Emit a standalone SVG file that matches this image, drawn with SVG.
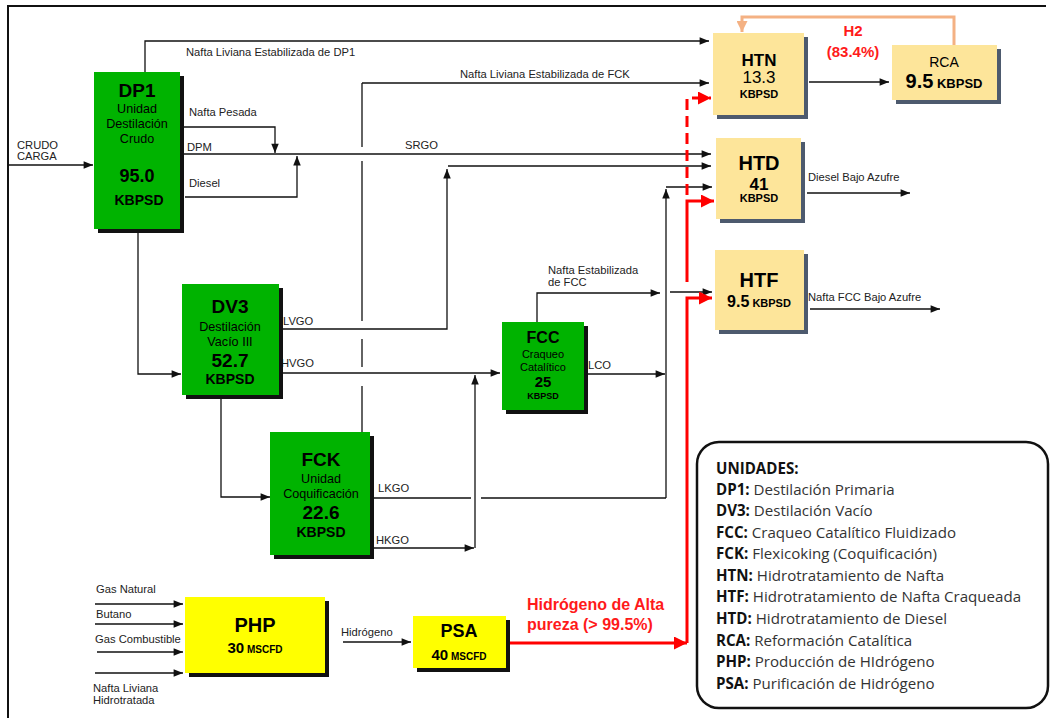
<svg xmlns="http://www.w3.org/2000/svg" width="1052" height="718" viewBox="0 0 1052 718">
<defs>
<style>
.ln{fill:none;stroke:#111;stroke-width:1.3}
.red{fill:none;stroke:#ff0000;stroke-width:3}
.dash{stroke-dasharray:11,6}
.org{fill:none;stroke:#f4b183;stroke-width:3}
.t{font-family:"Liberation Sans",Arial,sans-serif;fill:#000}
.lb{font-family:"Liberation Sans",Arial,sans-serif;font-size:11.2px;fill:#222}
.b{font-weight:bold}
.c{text-anchor:middle}
.green{fill:#00b300}
.tan{fill:#fde59a}
.yel{fill:#ffff00}
.shk{fill:#111}
.shb{fill:#4d5a6e}
.lg{font-family:"Open Sans","Liberation Sans",sans-serif;font-size:15.1px;fill:#333}
.lg tspan.k{font-weight:bold;fill:#111}
.rt{font-family:"Liberation Sans",Arial,sans-serif;font-weight:bold;fill:#ff1a1a}
</style>
<marker id="ah" viewBox="0 0 10 8" refX="10" refY="4" markerWidth="10" markerHeight="7.5" markerUnits="userSpaceOnUse" orient="auto"><path d="M0,0 L10,4 L0,8 z" fill="#111"/></marker>
<marker id="ahr" viewBox="0 0 10 10" refX="10" refY="5" markerWidth="14" markerHeight="13" markerUnits="userSpaceOnUse" orient="auto"><path d="M0,0 L10,5 L0,10 z" fill="#ff0000"/></marker>
<marker id="aho" viewBox="0 0 10 10" refX="10" refY="5" markerWidth="12" markerHeight="11" markerUnits="userSpaceOnUse" orient="auto"><path d="M0,0 L10,5 L0,10 z" fill="#f4b183"/></marker>
</defs>
<rect width="1052" height="718" fill="#fff"/>
<path d="M8,718 V6 H1046" fill="none" stroke="#111" stroke-width="2"/>

<g id="connectors">
<path class="ln" d="M8,165 H93" marker-end="url(#ah)"/>
<path class="ln" d="M145,72 V41 H709" marker-end="url(#ah)"/>
<path class="ln" d="M180,127 H275 V153" marker-end="url(#ah)"/>
<path class="ln" d="M180,154 H711" marker-end="url(#ah)"/>
<path class="ln" d="M185,197 H297 V156" marker-end="url(#ah)"/>
<path class="ln" d="M362,432 V386 M362,367 V339 M362,321 V161 M362,147 V83"/>
<path class="ln" d="M362,83 H709" marker-end="url(#ah)"/>
<path class="ln" d="M279,329 H447 V169" marker-end="url(#ah)"/>
<path class="ln" d="M448,166 H711" marker-end="url(#ah)"/>
<path class="ln" d="M279,373 H500" marker-end="url(#ah)"/>
<path class="ln" d="M138,229 V374 H181" marker-end="url(#ah)"/>
<path class="ln" d="M221,398 V497 H270" marker-end="url(#ah)"/>
<path class="ln" d="M372,498 H471 M481,498 H666"/>
<path class="ln" d="M666,498 V189" marker-end="url(#ah)"/>
<path class="ln" d="M666,187 H712" marker-end="url(#ah)"/>
<path class="ln" d="M372,548 H474" marker-end="url(#ah)"/>
<path class="ln" d="M475,548 V375" marker-end="url(#ah)"/>
<path class="ln" d="M585,374 H665" marker-end="url(#ah)"/>
<path class="ln" d="M537,322 V293 H660" marker-end="url(#ah)"/>
<path class="ln" d="M670,292 H712" marker-end="url(#ah)"/>
<path class="ln" d="M809,82 H889" marker-end="url(#ah)"/>
<path class="ln" d="M807,193 H910" marker-end="url(#ah)"/>
<path class="ln" d="M810,309 H940" marker-end="url(#ah)"/>
<path class="ln" d="M95,604 H183" marker-end="url(#ah)"/>
<path class="ln" d="M95,624 H183" marker-end="url(#ah)"/>
<path class="ln" d="M97,652 H183" marker-end="url(#ah)"/>
<path class="ln" d="M95,673 H183" marker-end="url(#ah)"/>
<path class="ln" d="M343,642 H411" marker-end="url(#ah)"/>
<path class="red" d="M508,643 H687" marker-end="url(#ahr)"/>
<path class="red" d="M687,643 V298 H712" marker-end="url(#ahr)"/>
<path class="red" d="M687,282 V201 H714" marker-end="url(#ahr)"/>
<path class="red dash" d="M687,195 V98 H711" marker-end="url(#ahr)"/>
<path class="org" d="M954,45 V17 H742 V32" marker-end="url(#aho)"/>
</g>

<g id="labels">
<text class="lb" x="17" y="149">CRUDO</text>
<text class="lb" x="17" y="160">CARGA</text>
<text class="lb" x="186" y="56">Nafta Liviana Estabilizada de DP1</text>
<text class="lb" x="189" y="116">Nafta Pesada</text>
<text class="lb" x="187" y="151">DPM</text>
<text class="lb" x="189" y="187">Diesel</text>
<text class="lb" x="405" y="149">SRGO</text>
<text class="lb" x="460" y="78">Nafta Liviana Estabilizada de FCK</text>
<text class="lb" x="283" y="325">LVGO</text>
<text class="lb" x="281" y="367">HVGO</text>
<text class="lb" x="378" y="492">LKGO</text>
<text class="lb" x="376" y="544">HKGO</text>
<text class="lb" x="588" y="369">LCO</text>
<text class="lb" x="548" y="274">Nafta Estabilizada</text>
<text class="lb" x="548" y="286">de FCC</text>
<text class="lb" x="808" y="181">Diesel Bajo Azufre</text>
<text class="lb" x="808" y="301">Nafta FCC Bajo Azufre</text>
<text class="lb" x="96" y="593">Gas Natural</text>
<text class="lb" x="96" y="618">Butano</text>
<text class="lb" x="95" y="643">Gas Combustible</text>
<text class="lb" x="93" y="692">Nafta Liviana</text>
<text class="lb" x="93" y="704">Hidrotratada</text>
<text class="lb" x="341" y="636">Hidrógeno</text>
<text class="rt" x="527" y="610" font-size="16">Hidrógeno de Alta</text>
<text class="rt" x="527" y="630" font-size="16">pureza (&gt; 99.5%)</text>
<text class="rt c" x="853" y="36" font-size="15">H2</text>
<text class="rt c" x="853" y="57" font-size="15">(83.4%)</text>
</g>

<g id="DP1">
<rect class="shk" x="98" y="76" width="86" height="157"/>
<rect class="green" x="94" y="72" width="86" height="157"/>
<text class="t b c" x="137" y="97" font-size="19">DP1</text>
<text class="t c" x="137" y="113" font-size="12.6">Unidad</text>
<text class="t c" x="137" y="128" font-size="12.6">Destilación</text>
<text class="t c" x="137" y="143" font-size="12.6">Crudo</text>
<text class="t b c" x="137" y="182" font-size="18">95.0</text>
<text class="t b c" x="139" y="205" font-size="14">KBPSD</text>
</g>

<g id="DV3">
<rect class="shk" x="186" y="288" width="97" height="111"/>
<rect class="green" x="182" y="284" width="97" height="111"/>
<text class="t b c" x="230" y="313" font-size="19">DV3</text>
<text class="t c" x="230" y="331" font-size="12.6">Destilación</text>
<text class="t c" x="230" y="346" font-size="12.6">Vacío III</text>
<text class="t b c" x="230" y="367" font-size="19">52.7</text>
<text class="t b c" x="230" y="384" font-size="14">KBPSD</text>
</g>

<g id="FCC">
<rect class="shk" x="506" y="326" width="82" height="88"/>
<rect class="green" x="502" y="322" width="82" height="88"/>
<text class="t b c" x="543" y="343" font-size="16">FCC</text>
<text class="t c" x="543" y="358" font-size="11">Craqueo</text>
<text class="t c" x="543" y="371" font-size="11">Catalítico</text>
<text class="t b c" x="543" y="387" font-size="15">25</text>
<text class="t b c" x="543" y="399" font-size="9">KBPSD</text>
</g>

<g id="FCK">
<rect class="shk" x="274" y="436" width="100" height="123"/>
<rect class="green" x="270" y="432" width="100" height="123"/>
<text class="t b c" x="321" y="466" font-size="19">FCK</text>
<text class="t c" x="321" y="483" font-size="12.6">Unidad</text>
<text class="t c" x="321" y="498" font-size="12.6">Coquificación</text>
<text class="t b c" x="321" y="519" font-size="19">22.6</text>
<text class="t b c" x="321" y="537" font-size="14">KBPSD</text>
</g>

<g id="HTN">
<rect class="shb" x="717" y="37" width="91" height="82"/>
<rect class="tan" x="713" y="33" width="91" height="82"/>
<text class="t b c" x="759" y="66" font-size="17">HTN</text>
<text class="t c" x="759" y="83" font-size="17">13.3</text>
<text class="t b c" x="759" y="98" font-size="11">KBPSD</text>
</g>

<g id="RCA">
<rect class="shb" x="896" y="49" width="105" height="55"/>
<rect class="tan" x="892" y="45" width="105" height="55"/>
<text class="t c" x="944" y="67" font-size="14">RCA</text>
<text class="t c" x="944" y="88"><tspan class="b" font-size="20">9.5</tspan><tspan class="b" font-size="13"> KBPSD</tspan></text>
</g>

<g id="HTD">
<rect class="shb" x="720" y="142" width="85" height="81"/>
<rect class="tan" x="716" y="138" width="85" height="81"/>
<text class="t b c" x="759" y="170" font-size="20">HTD</text>
<text class="t b c" x="759" y="190" font-size="17">41</text>
<text class="t b c" x="759" y="202" font-size="11">KBPSD</text>
</g>

<g id="HTF">
<rect class="shb" x="719" y="254" width="89" height="80"/>
<rect class="tan" x="715" y="250" width="89" height="80"/>
<text class="t b c" x="759" y="287" font-size="20">HTF</text>
<text class="t c" x="759" y="307"><tspan class="b" font-size="16">9.5</tspan><tspan class="b" font-size="11"> KBPSD</tspan></text>
</g>

<g id="PHP">
<rect class="shk" x="189" y="601" width="140" height="76"/>
<rect class="yel" x="185" y="597" width="140" height="76"/>
<text class="t b c" x="255" y="632" font-size="20">PHP</text>
<text class="t c" x="255" y="653"><tspan class="b" font-size="15">30</tspan><tspan class="b" font-size="10"> MSCFD</tspan></text>
</g>

<g id="PSA">
<rect class="shk" x="417" y="620" width="93" height="52"/>
<rect class="yel" x="413" y="616" width="93" height="52"/>
<text class="t b c" x="459" y="637" font-size="18">PSA</text>
<text class="t c" x="459" y="660"><tspan class="b" font-size="15">40</tspan><tspan class="b" font-size="10"> MSCFD</tspan></text>
</g>

<g id="legend">
<rect x="697" y="442" width="351" height="266" rx="22" fill="#fff" stroke="#111" stroke-width="2.5"/>
<text class="lg" x="716" y="474"><tspan class="k">UNIDADES:</tspan></text>
<text class="lg" x="716" y="495"><tspan class="k">DP1:</tspan> Destilación Primaria</text>
<text class="lg" x="716" y="516"><tspan class="k">DV3:</tspan> Destilación Vacío</text>
<text class="lg" x="716" y="538"><tspan class="k">FCC:</tspan> Craqueo Catalítico Fluidizado</text>
<text class="lg" x="716" y="559"><tspan class="k">FCK:</tspan> Flexicoking (Coquificación)</text>
<text class="lg" x="716" y="581"><tspan class="k">HTN:</tspan> Hidrotratamiento de Nafta</text>
<text class="lg" x="716" y="602"><tspan class="k">HTF:</tspan> Hidrotratamiento de Nafta Craqueada</text>
<text class="lg" x="716" y="624"><tspan class="k">HTD:</tspan> Hidrotratamiento de Diesel</text>
<text class="lg" x="716" y="646"><tspan class="k">RCA:</tspan> Reformación Catalítica</text>
<text class="lg" x="716" y="667"><tspan class="k">PHP:</tspan> Producción de HIdrógeno</text>
<text class="lg" x="716" y="689"><tspan class="k">PSA:</tspan> Purificación de Hidrógeno</text>
</g>
</svg>
